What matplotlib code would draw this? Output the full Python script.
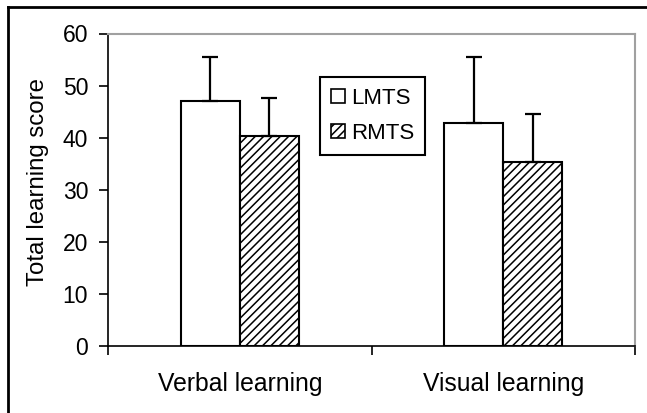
import matplotlib
matplotlib.use("Agg")
import matplotlib.pyplot as plt
from matplotlib.lines import Line2D
from matplotlib.patches import Patch
import numpy as np

categories = ["Verbal learning", "Visual learning"]
series_names = ["LMTS", "RMTS"]
lmts_values = [47.1, 42.9]
lmts_errors = [8.3, 12.5]
rmts_values = [40.3, 35.4]
rmts_errors = [7.4, 9.2]
y_ticks = [0, 10, 20, 30, 40, 50, 60]

plt.rcParams['font.family'] = ['Liberation Sans', 'DejaVu Sans']
plt.rcParams['hatch.linewidth'] = 1.1

W, H = 647, 413
fig = plt.figure(figsize=(W / 100, H / 100), dpi=100)
ax = fig.add_axes([108 / W, 1 - 346 / H, (635 - 108) / W, (346 - 33.5) / H])

x = np.arange(len(categories))
bw = 0.224
err_kw = dict(elinewidth=1.6, capthick=1.6, ecolor='black', capsize=6)
ax.bar(x - bw / 2, lmts_values, bw, color='white', edgecolor='black', linewidth=1.5,
       yerr=[np.zeros(len(x)), lmts_errors], error_kw=err_kw, zorder=3)
ax.bar(x + bw / 2, rmts_values, bw, color='white', edgecolor='black', linewidth=1.5,
       hatch='////', yerr=[np.zeros(len(x)), rmts_errors], error_kw=err_kw, zorder=3)

ax.set_xlim(-0.5, len(categories) - 0.5)
ax.set_ylim(0, 60)
ax.set_yticks(y_ticks)
ax.set_yticklabels([str(t) for t in y_ticks], fontsize=16.5)
ax.tick_params(axis='y', direction='out', length=6.3, width=1.2, pad=8, colors='black')

ax.set_xticks(np.arange(-0.5, len(categories)), minor=False)
ax.set_xticklabels([], minor=False)
ax.set_xticks(x, minor=True)
ax.set_xticklabels(categories, minor=True, fontsize=17.8)
ax.tick_params(axis='x', which='major', direction='out', length=6.5, width=1.2)
ax.tick_params(axis='x', which='minor', length=0, pad=19)

for s in ['left', 'bottom']:
    ax.spines[s].set_color('black')
    ax.spines[s].set_linewidth(1.2)
for s in ['top', 'right']:
    ax.spines[s].set_color('#a0a0a0')
    ax.spines[s].set_linewidth(1.5)

fig.text(37.8 / W, 1 - 182.5 / H, "Total learning score", rotation=90,
         ha='center', va='center', fontsize=17.3)

handles = [Patch(facecolor='white', edgecolor='black', linewidth=1.2),
           Patch(facecolor='white', edgecolor='black', linewidth=1.2, hatch='////')]
leg = ax.legend(handles, series_names, loc='upper left',
                bbox_to_anchor=(320 / W, 1 - 76.7 / H), bbox_transform=fig.transFigure,
                fontsize=16, frameon=True, fancybox=False, framealpha=1,
                edgecolor='black', handlelength=0.62, handleheight=0.62,
                handletextpad=0.28, labelspacing=0.62, borderpad=0.5, borderaxespad=0)
leg.get_frame().set_linewidth(1.5)

fig.add_artist(Line2D([7.5 / W, 7.5 / W], [0, 1 - 7 / H], color='black', linewidth=2))
fig.add_artist(Line2D([7.5 / W, 1], [1 - 7 / H, 1 - 7 / H], color='black', linewidth=2))

fig.savefig("out.png", dpi=100)
